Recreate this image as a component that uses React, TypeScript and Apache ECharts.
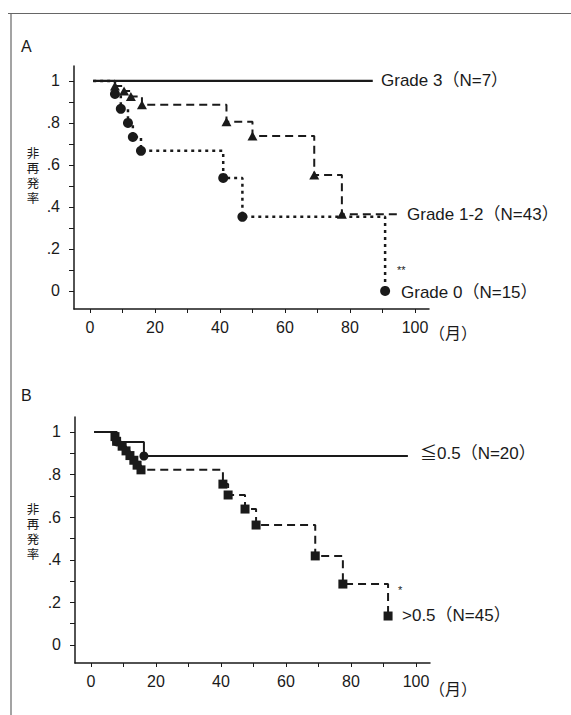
import React, { useEffect, useRef } from "react";
import * as echarts from "echarts";

// ---------- data ----------
const xTickValues = [0, 10, 20, 30, 40, 50, 60, 70, 80, 90, 100];
const xLabelValues = [0, 20, 40, 60, 80, 100];
const yTickValues = [0, 0.1, 0.2, 0.3, 0.4, 0.5, 0.6, 0.7, 0.8, 0.9, 1];
const yLabelValues = [0, 0.2, 0.4, 0.6, 0.8, 1];

// Panel A
const grade3 = [[1, 1], [87, 1]];
const grade12 = [
  [1, 1], [7.7, 0.976], [10.5, 0.952], [12.6, 0.926], [16, 0.886],
  [42, 0.805], [50, 0.738], [69, 0.552], [77.5, 0.365], [95, 0.365],
];
const grade0 = [
  [1, 1], [7.7, 0.938], [9.5, 0.867], [11.7, 0.8], [13.2, 0.733],
  [15.7, 0.667], [41, 0.538], [46.9, 0.353], [90.8, 0],
];

// Panel B
const low = [[1, 1], [8, 0.953], [16.3, 0.887], [97.5, 0.887]];
const high = [
  [1, 1], [7.4, 0.978], [7.9, 0.956], [9.6, 0.933], [10.8, 0.911],
  [12, 0.889], [13.2, 0.867], [14.2, 0.844], [15.4, 0.822],
  [40.6, 0.755], [42.2, 0.704], [47.4, 0.638], [50.8, 0.563],
  [69, 0.418], [77.5, 0.286], [91.4, 0.136],
];

const labelsA = ["Grade 3（N=7）", "Grade 1-2（N=43）", "Grade 0（N=15）"];
const labelsB = ["≦0.5（N=20）", ">0.5（N=45）"];
const yAxisName = "非再発率";
const xAxisUnit = "（月）";

const INK = "#1a1a1a";
const FONT = '"Liberation Sans", Arial, "Noto Sans CJK JP", sans-serif';

function points(arr: number[][], symbol: string, skipLast: boolean) {
  return arr.map((p, i) => {
    const hide = i === 0 || (skipLast && i === arr.length - 1);
    return hide ? { value: p, symbol: "none" } : { value: p, symbol };
  });
}

function yFmt(v: number) {
  if (v === 0) return "0";
  if (v === 1) return "1";
  return String(v).replace(/^0/, "");
}

function xAxis(gridIndex: number) {
  return {
    type: "value",
    gridIndex,
    min: -4.9,
    max: 104.3,
    axisLine: { onZero: false, lineStyle: { color: INK, width: 1.5 } },
    axisTick: { show: true, customValues: xTickValues, length: 4, lineStyle: { color: INK, width: 1 } },
    axisLabel: { customValues: xLabelValues, color: INK, fontSize: 16, fontFamily: FONT, margin: 10 },
    splitLine: { show: false },
  };
}

function yAxis(gridIndex: number, min: number, max: number) {
  return {
    type: "value",
    gridIndex,
    min,
    max,
    axisLine: { show: true, onZero: false, lineStyle: { color: INK, width: 1.5 } },
    axisTick: { show: true, customValues: yTickValues, length: 5, lineStyle: { color: INK, width: 1 } },
    axisLabel: { customValues: yLabelValues, color: INK, fontSize: 16, fontFamily: FONT, margin: 14, formatter: yFmt },
    splitLine: { show: false },
  };
}

function txt(text: string, x: number, y: number, size: number, align = "left", lh = size) {
  return {
    type: "text",
    x,
    y,
    style: {
      text,
      fill: INK,
      font: `${size}px ${FONT}`,
      align,
      verticalAlign: "middle",
      textAlign: align,
      textVerticalAlign: "middle",
      lineHeight: lh,
    },
  };
}

const verticalName = yAxisName.split("").join("\n");

export default function App() {
  const ref = useRef<HTMLDivElement>(null);
  useEffect(() => {
    if (!ref.current) return;
    const chart = echarts.init(ref.current, null, { renderer: "svg" });
    const lineBase = { type: "line", step: "end", silent: true, symbolSize: 10, itemStyle: { color: INK }, z: 3 };
    chart.setOption({
      animation: false,
      backgroundColor: "#ffffff",
      grid: [
        { left: 74, top: 66, width: 355, height: 243 },
        { left: 75, top: 417, width: 355, height: 246 },
      ],
      xAxis: [xAxis(0), xAxis(1)],
      yAxis: [yAxis(0, -0.086, 1.071), yAxis(1, -0.0845, 1.07)],
      series: [
        {
          ...lineBase, name: labelsA[0], xAxisIndex: 0, yAxisIndex: 0,
          data: points(grade3, "none", true),
          lineStyle: { color: INK, width: 2.2, type: "solid" }, z: 4,
        },
        {
          ...lineBase, name: labelsA[1], xAxisIndex: 0, yAxisIndex: 0,
          data: points(grade12, "triangle", true), symbolSize: [10, 9],
          lineStyle: { color: INK, width: 2, type: [8, 5] },
        },
        {
          ...lineBase, name: labelsA[2], xAxisIndex: 0, yAxisIndex: 0,
          data: points(grade0, "circle", false), symbolSize: 10,
          lineStyle: { color: INK, width: 2.5, type: [3, 4] },
        },
        {
          ...lineBase, name: labelsB[0], xAxisIndex: 1, yAxisIndex: 1,
          data: points(low, "circle", true), symbolSize: 9,
          lineStyle: { color: INK, width: 2, type: "solid" },
        },
        {
          ...lineBase, name: labelsB[1], xAxisIndex: 1, yAxisIndex: 1,
          data: points(high, "rect", false), symbolSize: 9,
          lineStyle: { color: INK, width: 2, type: [8, 5] },
        },
      ],
      graphic: [
        { type: "line", shape: { x1: 8, y1: 13.5, x2: 571, y2: 13.5 }, style: { stroke: "#666", lineWidth: 1.2 } },
        { type: "line", shape: { x1: 11, y1: 13.5, x2: 11, y2: 715 }, style: { stroke: "#666", lineWidth: 1.2 } },
        txt("A", 21, 46, 16),
        txt("B", 21, 395, 16),
        txt(verticalName, 33, 176, 12.5, "center", 15),
        txt(verticalName, 33, 532, 12.5, "center", 15),
        txt(labelsA[0], 381, 80, 17),
        txt(labelsA[1], 407, 214, 17),
        txt(labelsA[2], 401, 292, 17),
        txt("**", 397, 270, 11),
        txt(labelsB[0], 420, 453, 17),
        txt(labelsB[1], 402, 615, 17),
        txt("*", 398, 590, 11),
        txt(xAxisUnit, 429, 333, 16),
        txt(xAxisUnit, 429, 689, 16),
      ],
    });
    return () => chart.dispose();
  }, []);
  return (
    <div
      ref={ref}
      style={{ position: "absolute", left: 0, top: 0, width: 571, height: 715, background: "#fff" }}
    />
  );
}
